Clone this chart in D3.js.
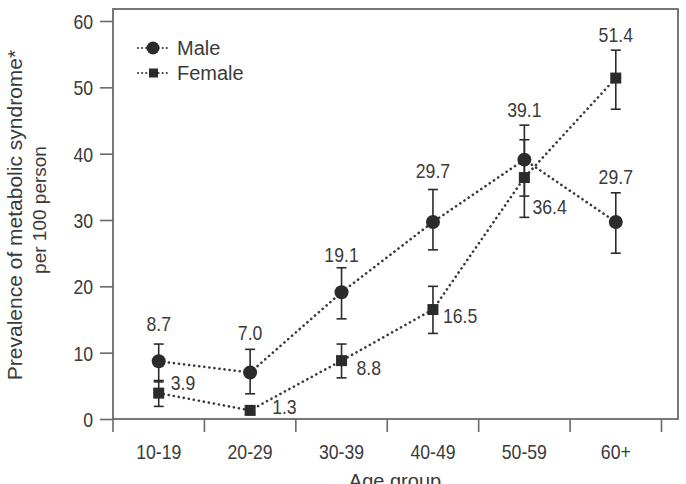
<!DOCTYPE html>
<html>
<head>
<meta charset="utf-8">
<script src="https://cdn.jsdelivr.net/npm/d3@7"></script>
<style>
  html, body { margin: 0; padding: 0; background: #fff; }
  svg { display: block; }
  text { font-family: "Liberation Sans", Arial, sans-serif; fill: #3a3a3a; }
  text.num { font-family: "Liberation Sans Narrow", "Arial Narrow", "Liberation Sans", Arial, sans-serif; }
</style>
</head>
<body>
<svg id="chart" width="686" height="484"></svg>
<script>
// ---- data ----
const categories = ["10-19", "20-29", "30-39", "40-49", "50-59", "60+"];
const maleValues   = [8.7, 7.0, 19.1, 29.7, 39.1, 29.7];
const maleLow      = [5.6, 3.8, 15.1, 25.5, 33.6, 25.0];
const maleHigh     = [11.3, 10.5, 22.8, 34.6, 44.3, 34.1];
const femaleValues = [3.9, 1.3, 8.8, 16.5, 36.4, 51.4];
const femaleLow    = [1.9, 0.7, 6.2, 12.9, 30.4, 46.7];
const femaleHigh   = [5.8, 1.9, 11.3, 20.0, 42.1, 55.6];
const yTicks = [0, 10, 20, 30, 40, 50, 60];
const seriesNames = ["Male", "Female"];
const yTitle = ["Prevalence of metabolic syndrome*", "per 100 person"];
const xTitle = "Age group";

// ---- layout ----
const svg = d3.select("#chart");
const mLeft = 113, mRight = 678, mTop = 9, mBottom = 419;
const x = d3.scaleBand().domain(categories).range([mLeft, 661.5]);
const y = d3.scaleLinear().domain([0, 60]).range([mBottom, 21]);
const cx = c => x(c) + x.bandwidth() / 2;
const ink = "#2b2b2b", axisCol = "#6a6a6a";
const numSize = 21;

// frame
svg.append("rect").attr("x", mLeft).attr("y", mTop)
  .attr("width", mRight - mLeft).attr("height", mBottom - mTop)
  .attr("fill", "none").attr("stroke", axisCol).attr("stroke-width", 1.8);

// y axis
const yAxis = svg.append("g").attr("transform", `translate(${mLeft},0)`)
  .call(d3.axisLeft(y).tickValues(yTicks).tickSize(13).tickPadding(7).tickFormat(d3.format("d")));
yAxis.attr("font-family", null).attr("font-size", null);
yAxis.select(".domain").remove();
yAxis.selectAll(".tick line").attr("stroke", axisCol).attr("stroke-width", 1.6);
yAxis.selectAll(".tick text").attr("class", "num").attr("font-size", numSize).attr("fill", "#3a3a3a").attr("dy", "0.36em");

// x axis ticks at band boundaries
const boundaries = categories.map(c => x(c)).concat([x(categories[categories.length - 1]) + x.bandwidth()]);
svg.append("g").selectAll("line").data(boundaries).join("line")
  .attr("x1", d => d).attr("x2", d => d).attr("y1", mBottom).attr("y2", mBottom + 13)
  .attr("stroke", axisCol).attr("stroke-width", 1.6);
svg.append("g").selectAll("text").data(categories).join("text")
  .attr("class", "num")
  .attr("x", d => cx(d)).attr("y", 459).attr("text-anchor", "middle")
  .attr("font-size", numSize).text(d => d);

// titles
svg.append("text").attr("x", 395).attr("y", 488).attr("text-anchor", "middle")
  .attr("font-size", 20).text(xTitle);
svg.append("text").attr("transform", "translate(22,215) rotate(-90)")
  .attr("text-anchor", "middle").attr("font-size", 21).text(yTitle[0]);
svg.append("text").attr("transform", "translate(46,210) rotate(-90)")
  .attr("text-anchor", "middle").attr("font-size", 19).text(yTitle[1]);

// series
const series = [
  { name: seriesNames[0], v: maleValues, lo: maleLow, hi: maleHigh, shape: "circle" },
  { name: seriesNames[1], v: femaleValues, lo: femaleLow, hi: femaleHigh, shape: "square" }
];
const line = d3.line().x(d => cx(d.c)).y(d => y(d.v));

series.forEach(s => {
  const pts = categories.map((c, i) => ({ c, v: s.v[i], lo: s.lo[i], hi: s.hi[i] }));
  svg.append("path").datum(pts).attr("d", line)
    .attr("fill", "none").attr("stroke", "#3a3a3a").attr("stroke-width", 2.6)
    .attr("stroke-linecap", "round").attr("stroke-dasharray", "0.1 5");
  const g = svg.append("g");
  g.selectAll("line.eb").data(pts).join("line").attr("class", "eb")
    .attr("x1", d => cx(d.c)).attr("x2", d => cx(d.c))
    .attr("y1", d => y(d.lo)).attr("y2", d => y(d.hi))
    .attr("stroke", ink).attr("stroke-width", 1.6);
  ["lo", "hi"].forEach(k => {
    g.selectAll("line.cap" + k).data(pts).join("line").attr("class", "cap" + k)
      .attr("x1", d => cx(d.c) - 5).attr("x2", d => cx(d.c) + 5)
      .attr("y1", d => y(d[k])).attr("y2", d => y(d[k]))
      .attr("stroke", ink).attr("stroke-width", 1.6);
  });
  s.pts = pts;
});

// markers
series.forEach(s => {
  if (s.shape === "circle") {
    svg.append("g").selectAll("circle").data(s.pts).join("circle")
      .attr("cx", d => cx(d.c)).attr("cy", d => y(d.v)).attr("r", 7).attr("fill", ink);
  } else {
    svg.append("g").selectAll("rect").data(s.pts).join("rect")
      .attr("x", d => cx(d.c) - 5.5).attr("y", d => y(d.v) - 5.5)
      .attr("width", 11).attr("height", 11).attr("fill", ink);
  }
});

// value labels
const maleDy = [-13, -9, -6, -11, -8, -9];
svg.append("g").selectAll("text").data(series[0].pts).join("text")
  .attr("class", "num")
  .attr("x", d => cx(d.c)).attr("y", (d, i) => y(d.hi) + maleDy[i])
  .attr("text-anchor", "middle").attr("font-size", numSize).text(d => d.v.toFixed(1));
const femaleOff = [[12, -3], [22, 4], [15, 14], [10, 13], [8, 36], [0, null]];
svg.append("g").selectAll("text").data(series[1].pts).join("text")
  .attr("class", "num")
  .attr("x", (d, i) => cx(d.c) + femaleOff[i][0])
  .attr("y", (d, i) => femaleOff[i][1] === null ? y(d.hi) - 8 : y(d.v) + femaleOff[i][1])
  .attr("text-anchor", (d, i) => femaleOff[i][1] === null ? "middle" : "start")
  .attr("font-size", numSize).text(d => d.v.toFixed(1));

// legend
const leg = svg.append("g");
series.forEach((s, i) => {
  const ly = 48 + i * 25;
  leg.append("line").attr("x1", 138).attr("x2", 168).attr("y1", ly).attr("y2", ly)
    .attr("stroke", "#3a3a3a").attr("stroke-width", 2).attr("stroke-linecap", "round")
    .attr("stroke-dasharray", "0.1 4");
  if (s.shape === "circle") {
    leg.append("circle").attr("cx", 153).attr("cy", ly).attr("r", 6.5).attr("fill", ink);
  } else {
    leg.append("rect").attr("x", 149).attr("y", ly - 4.5).attr("width", 9).attr("height", 9).attr("fill", ink);
  }
  leg.append("text").attr("x", 177).attr("y", ly + 7).attr("font-size", 20).text(s.name);
});

// fallback: if no narrow face is installed, compress numeric text horizontally
const probeN = svg.append("text").attr("class", "num").attr("font-size", 21).text("0000");
const probeR = svg.append("text").attr("font-size", 21).text("0000");
const ratio = probeN.node().getComputedTextLength() / probeR.node().getComputedTextLength();
probeN.remove(); probeR.remove();
if (ratio > 0.92) {
  svg.selectAll("text.num").each(function () {
    const w = this.getComputedTextLength();
    d3.select(this).attr("textLength", w * 0.84).attr("lengthAdjust", "spacingAndGlyphs");
  });
}
</script>
</body>
</html>
